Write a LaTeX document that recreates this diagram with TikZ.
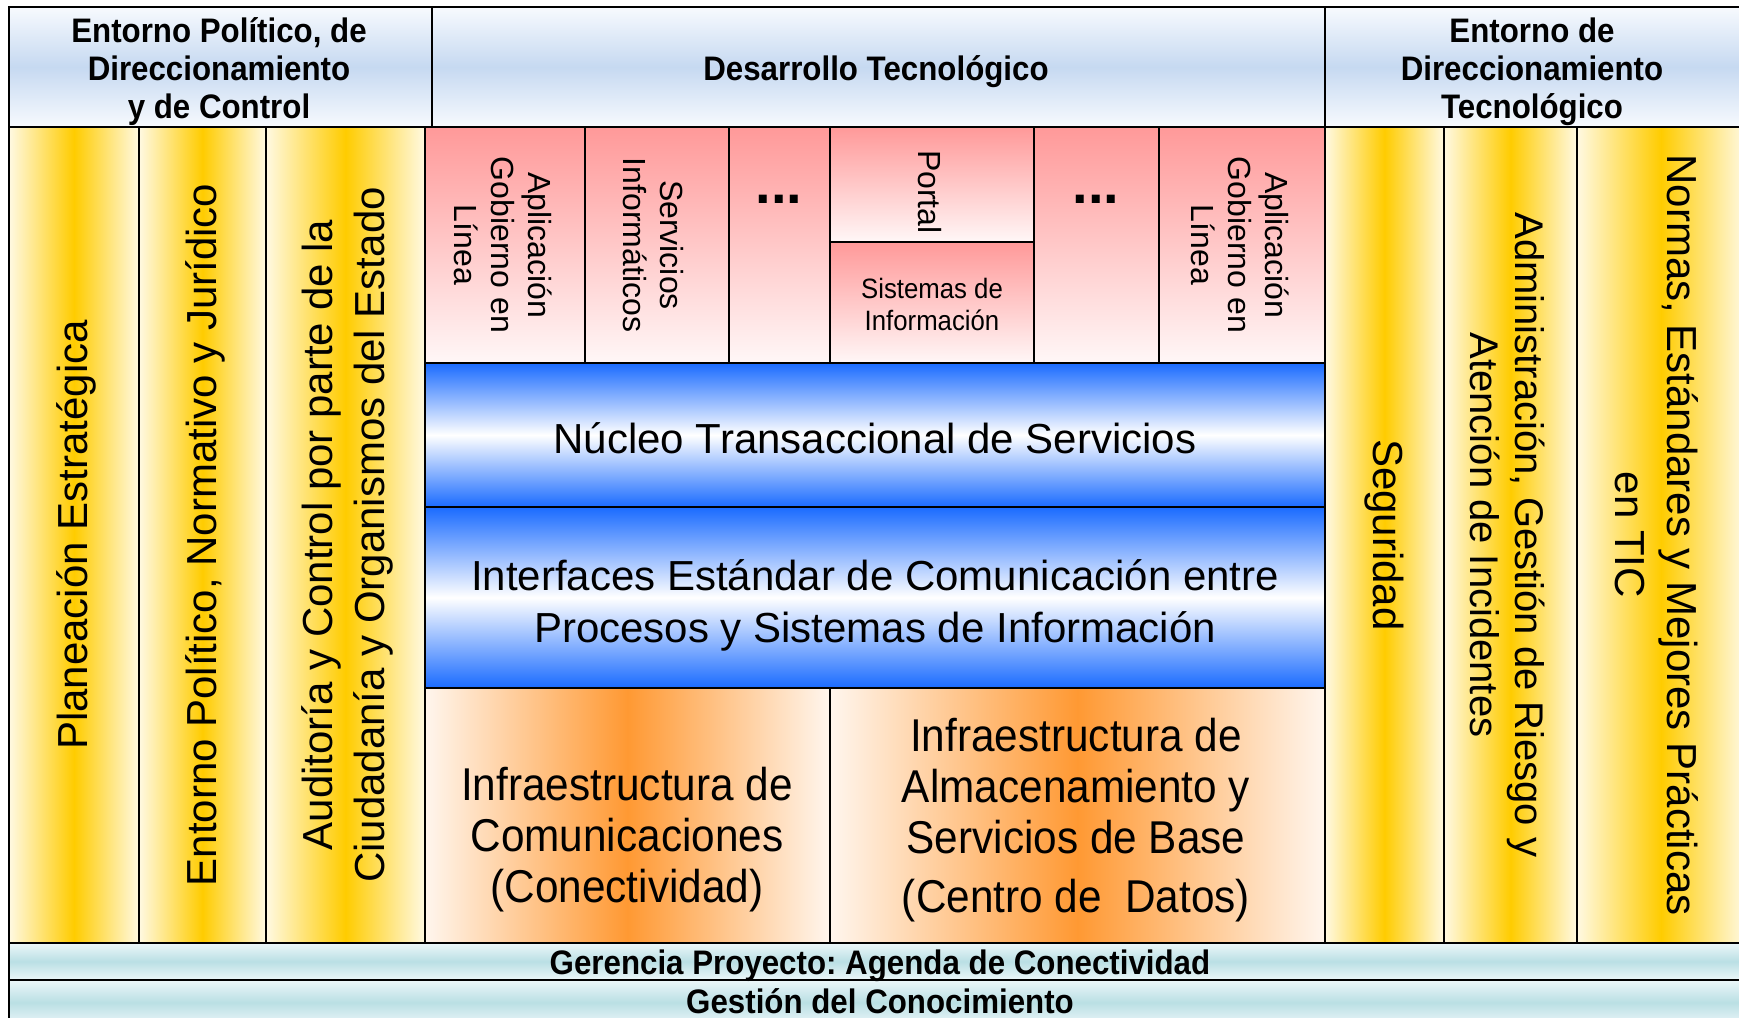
\documentclass[tikz,border=0pt]{standalone}
\usepackage{fontspec}
\setmainfont{Liberation Sans}
\newfontfamily\narrowfont[FakeStretch=0.92]{Liberation Sans}
\frenchspacing

\definecolor{hdrblue}{HTML}{C6D9F1}
\definecolor{hdrpale}{HTML}{F7FAFE}
\definecolor{goldmid}{HTML}{FFCC00}
\definecolor{goldpale}{HTML}{FFF9E2}
\definecolor{pinktop}{HTML}{FF9999}
\definecolor{pinkpale}{HTML}{FFF7F7}
\definecolor{bandblue}{HTML}{1A6BFF}
\definecolor{orangemid}{HTML}{FF9933}
\definecolor{orangepale}{HTML}{FFF6EE}
\definecolor{barteal}{HTML}{BADFE4}
\definecolor{barpale}{HTML}{ECF7F9}

\tikzset{
  hdrcell/.style={draw, top color=hdrpale, bottom color=hdrpale, middle color=hdrblue},
  goldcol/.style={draw, left color=goldpale, right color=goldpale, middle color=goldmid},
  pinkcell/.style={draw, top color=pinktop, bottom color=pinkpale},
  bandcell/.style={draw, line width=2.2pt, top color=bandblue, bottom color=bandblue, middle color=white},
  orangecell/.style={draw, left color=orangepale, right color=orangepale, middle color=orangemid},
  barcell/.style={draw, line width=2.2pt, top color=barpale, bottom color=barpale, middle color=barteal},
  hdrtext/.style={align=center, font=\narrowfont\bfseries\fontsize{34}{38}\selectfont},
  coltext/.style={align=center, font=\fontsize{42}{52}\selectfont},
  apptext/.style={align=center, font=\fontsize{32}{37}\selectfont},
  dotstext/.style={anchor=base, font=\bfseries\fontsize{56}{56}\selectfont},
  sistext/.style={align=center, font=\narrowfont\fontsize{28}{32}\selectfont},
  bandtext/.style={align=center, font=\fontsize{42}{52}\selectfont},
  infratext/.style={align=center, font=\narrowfont\fontsize{46}{51}\selectfont},
  bartext/.style={font=\narrowfont\bfseries\fontsize{34}{38}\selectfont}
}

\begin{document}
\begin{tikzpicture}[x=1pt,y=-1pt,line width=1.4pt]
\useasboundingbox (0,0) rectangle (1739,1017);
\clip (0,0) rectangle (1739,1017);

% Header
\draw[hdrcell] (9,7) rectangle (432,127);
\draw[hdrcell] (432,7) rectangle (1325,127);
\draw[hdrcell] (1325,7) rectangle (1745,127);
\node[hdrtext] (entpol) at (219,72) {Entorno Político, de\\Direccionamiento\\y de Control};
\node[hdrtext] (destec) at (876,72) {Desarrollo Tecnológico};
\node[hdrtext] (entdir) at (1532,72) {Entorno de\\Direccionamiento\\Tecnológico};

% Left columns
\draw[goldcol] (9,127) rectangle (139,943);
\draw[goldcol] (139,127) rectangle (266,943);
\draw[goldcol] (266,127) rectangle (425,943);
\node[coltext, rotate=90] (planea) at (76,535) {Planeación Estratégica};
\node[coltext, rotate=90] (entnorm) at (205,535) {Entorno Político, Normativo y Jurídico};
\node[coltext, rotate=90] (audit) at (347,535) {Auditoría y Control por parte de la\\Ciudadanía y Organismos del Estado};

% Right columns
\draw[goldcol] (1325,127) rectangle (1444,943);
\draw[goldcol] (1444,127) rectangle (1577,943);
\draw[goldcol] (1577,127) rectangle (1745,943);
\node[coltext, rotate=-90] (segur) at (1384,535) {Seguridad};
\node[coltext, rotate=-90, font=\fontsize{40}{45}\selectfont] (admin) at (1508,535) {Administración, Gestión de Riesgo y\\Atención de Incidentes};
\node[coltext, rotate=-90] (normas) at (1657,535) {Normas, Estándares y Mejores Prácticas\\en TIC};

% Applications
\draw[pinkcell] (425,127) rectangle (585,363);
\draw[pinkcell] (585,127) rectangle (729,363);
\draw[pinkcell] (729,127) rectangle (830,363);
\draw[pinkcell] (830,127) rectangle (1034,242);
\draw[pinkcell] (830,242) rectangle (1034,363);
\draw[pinkcell] (1034,127) rectangle (1159,363);
\draw[pinkcell] (1159,127) rectangle (1325,363);
\node[apptext, rotate=-90] (aplica) at (503,245) {Aplicación\\Gobierno en\\Línea};
\node[apptext, rotate=-90] (servinf) at (653,245) {Servicios\\Informáticos};
\node[dotstext] (dotsa) at (779,203) {...};
\node[apptext, rotate=-90] (portal) at (930,192) {Portal};
\node[sistext] (sisinf) at (932,304) {Sistemas de\\Información};
\node[dotstext] (dotsb) at (1096,203) {...};
\node[apptext, rotate=-90] (aplicb) at (1240,245) {Aplicación\\Gobierno en\\Línea};

% Bands
\draw[bandcell] (425,363) rectangle (1325,507);
\draw[bandcell] (425,507) rectangle (1325,688);
\node[bandtext] (nucleo) at (875,438) {Núcleo Transaccional de Servicios};
\node[bandtext] (interf) at (875,605) {Interfaces Estándar de Comunicación entre\\Procesos y Sistemas de Información};

% Infrastructure
\draw[orangecell] (425,688) rectangle (830,943);
\draw[orangecell] (830,688) rectangle (1325,943);
\node[infratext] (infcom) at (627,840) {Infraestructura de\\Comunicaciones\\(Conectividad)};
\node[infratext] (infalm) at (1076,820) {Infraestructura de\\Almacenamiento y\\Servicios de Base\\[8pt](Centro de\ \ Datos)};

% Bottom bars
\draw[barcell] (9,943) rectangle (1745,980);
\draw[barcell] (9,980) rectangle (1745,1025);
\node[bartext] (gerencia) at (880,966) {Gerencia Proyecto: Agenda de Conectividad};
\node[bartext] (gestion) at (880,1001) {Gestión del Conocimiento};
\end{tikzpicture}
\end{document}
